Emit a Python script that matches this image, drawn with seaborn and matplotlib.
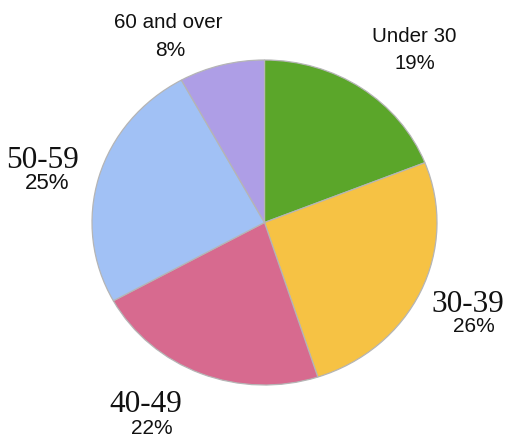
import matplotlib
matplotlib.use("Agg")
import matplotlib.pyplot as plt
import seaborn as sns

# Age distribution of respondents
age_groups = ["Under 30", "30-39", "40-49", "50-59", "60 and over"]
shares = [19, 26, 22, 25, 8]

sns.set_theme(style="white")
plt.rcParams["font.family"] = ["Liberation Sans", "DejaVu Sans"]

slice_colors = sns.color_palette(["#5ba62a", "#f6c244", "#d76a8f", "#a1c1f5", "#ae9ee6"])

W, H = 506, 439
fig = plt.figure(figsize=(W / 100, H / 100), dpi=100)
fig.patch.set_facecolor("white")

# pie occupies a slightly wide ellipse
left, right, top, bottom = 92, 437, 61, 386
ax = fig.add_axes([left / W, 1 - bottom / H, (right - left) / W, (bottom - top) / H])
ax.pie(
    shares,
    colors=slice_colors,
    startangle=90,
    counterclock=False,
    radius=1.0,
    wedgeprops=dict(edgecolor="#b5b5b5", linewidth=0.9),
)
ax.set_xlim(-1.0, 1.0)
ax.set_ylim(-1.0, 1.0)
ax.set_aspect("auto")
ax.axis("off")

# label placement (pixel centres / baselines) and typeface per group
name_pos = [(414, 41.5), (468, 311.5), (146, 412.5), (42, 167.5), (168, 28.3)]
pct_pos = [(415, 69), (474, 332), (152, 434.3), (47.5, 189), (170, 56)]
name_style = [
    dict(family=["Liberation Sans"], size=14.8),
    dict(family=["Liberation Serif"], size=22.5),
    dict(family=["Liberation Serif"], size=22.5),
    dict(family=["Liberation Serif"], size=22.5),
    dict(family=["Liberation Sans"], size=14.8),
]
pct_size = [14.6, 15.0, 15.0, 16.0, 15.0]

for name, share, (nx, ny), (px, py), style, ps in zip(
    age_groups, shares, name_pos, pct_pos, name_style, pct_size
):
    fig.text(nx / W, 1 - ny / H, name, ha="center", va="baseline",
             color="#111111", **style)
    fig.text(px / W, 1 - py / H, f"{share}%", ha="center", va="baseline",
             color="#111111", family=["Liberation Sans"], size=ps)

fig.savefig("out.png", dpi=100, facecolor="white")
